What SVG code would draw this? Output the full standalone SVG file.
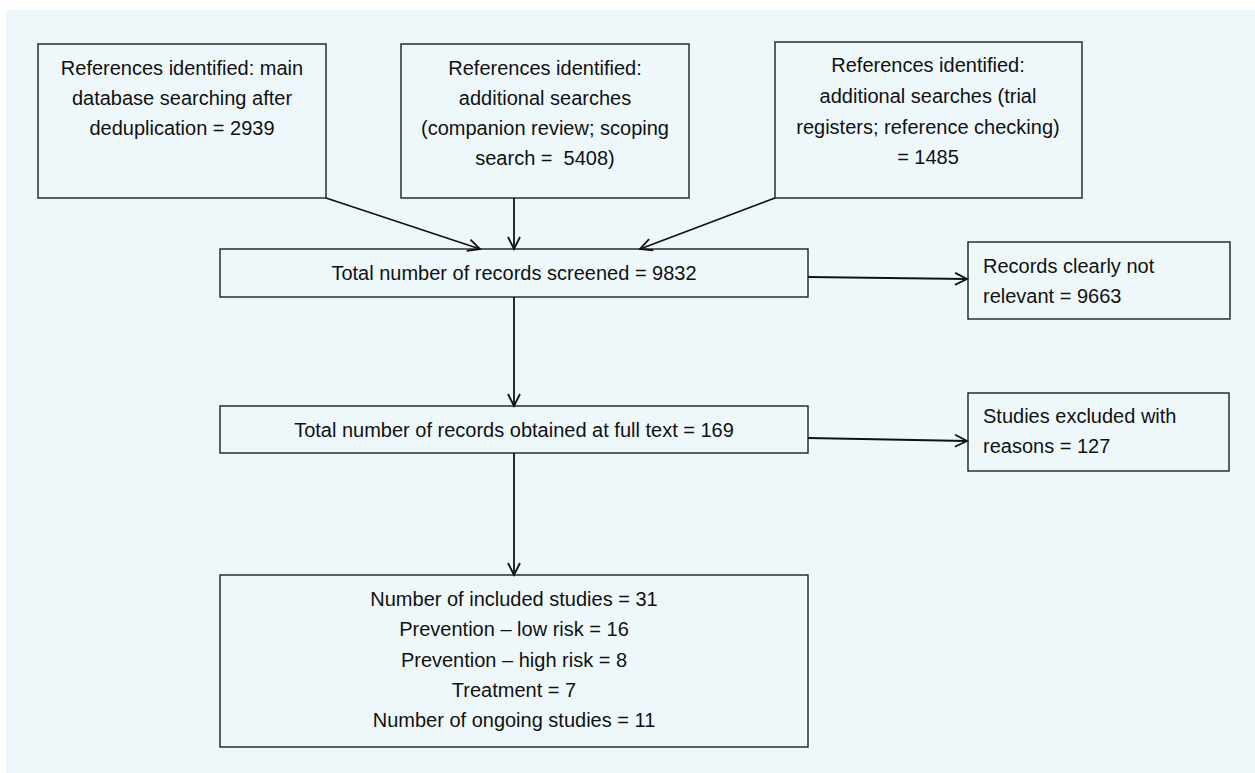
<svg xmlns="http://www.w3.org/2000/svg" width="1255" height="773" viewBox="0 0 1255 773">
<defs>
<style>
.box{fill:#EEF8FB;stroke:#1f1f1f;stroke-width:1.4}
.t{font-family:"Liberation Sans",Arial,sans-serif;font-size:20px;fill:#111}
.c{text-anchor:middle}
.con{stroke:#111;stroke-width:1.8;fill:none;marker-end:url(#arr)}
</style>
<marker id="arr" markerUnits="userSpaceOnUse" markerWidth="16" markerHeight="16" refX="13" refY="7" orient="auto" viewBox="0 0 16 14">
<path d="M1,1 L13,7 L1,13" fill="none" stroke="#111" stroke-width="1.8"/>
</marker>
</defs>
<rect x="0" y="0" width="1255" height="773" fill="#ffffff"/>
<rect x="6" y="10" width="1249" height="763" fill="#EEF8FB"/>
<g id="n1">
<rect class="box" x="38" y="44" width="288" height="154"/>
<text class="t c" x="182" y="75">References identified: main</text>
<text class="t c" x="182" y="105">database searching after</text>
<text class="t c" x="182" y="135">deduplication = 2939</text>
</g>
<g id="n2">
<rect class="box" x="401" y="44" width="288" height="154"/>
<text class="t c" x="545" y="75">References identified:</text>
<text class="t c" x="545" y="105">additional searches</text>
<text class="t c" x="545" y="135">(companion review; scoping</text>
<text class="t c" x="545" y="165" xml:space="preserve">search =  5408)</text>
</g>
<g id="n3">
<rect class="box" x="775" y="42" width="307" height="156"/>
<text class="t c" x="928" y="72">References identified:</text>
<text class="t c" x="928" y="103">additional searches (trial</text>
<text class="t c" x="928" y="134">registers; reference checking)</text>
<text class="t c" x="928" y="164">= 1485</text>
</g>
<g id="n4">
<rect class="box" x="220" y="249" width="588" height="48"/>
<text class="t c" x="514" y="280">Total number of records screened = 9832</text>
</g>
<g id="n5">
<rect class="box" x="968" y="242" width="262" height="77"/>
<text class="t" x="983" y="273">Records clearly not</text>
<text class="t" x="983" y="303">relevant = 9663</text>
</g>
<g id="n6">
<rect class="box" x="220" y="406" width="588" height="47"/>
<text class="t c" x="514" y="437">Total number of records obtained at full text = 169</text>
</g>
<g id="n7">
<rect class="box" x="968" y="393" width="261" height="78"/>
<text class="t" x="983" y="423">Studies excluded with</text>
<text class="t" x="983" y="453">reasons = 127</text>
</g>
<g id="n8">
<rect class="box" x="220" y="575" width="588" height="172"/>
<text class="t c" x="514" y="606">Number of included studies = 31</text>
<text class="t c" x="514" y="636">Prevention – low risk = 16</text>
<text class="t c" x="514" y="667">Prevention – high risk = 8</text>
<text class="t c" x="514" y="697">Treatment = 7</text>
<text class="t c" x="514" y="727">Number of ongoing studies = 11</text>
</g>
<g id="connectors">
<line class="con" x1="326" y1="198" x2="480" y2="249"/>
<line class="con" x1="514" y1="198" x2="514" y2="249"/>
<line class="con" x1="775" y1="198" x2="640" y2="249"/>
<line class="con" x1="808" y1="277" x2="967" y2="279"/>
<line class="con" x1="514" y1="297" x2="514" y2="406"/>
<line class="con" x1="808" y1="438" x2="967" y2="441"/>
<line class="con" x1="514" y1="453" x2="514" y2="575"/>
</g>
</svg>
